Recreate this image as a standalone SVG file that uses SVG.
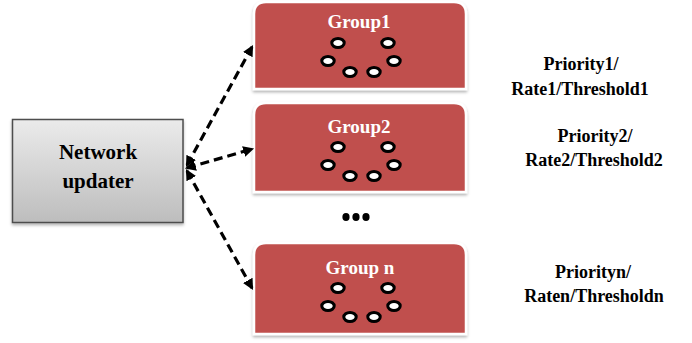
<svg xmlns="http://www.w3.org/2000/svg" width="692" height="343" viewBox="0 0 692 343">
<style>
.grp{fill:#c0504d;stroke:#ffffff;stroke-width:2.5;filter:url(#sh)}
.gl{font-family:"Liberation Serif",serif;font-weight:bold;font-size:19px;fill:#ffffff;text-anchor:middle}
.dot{fill:#ffffff;stroke:#000000;stroke-width:3}
.lbl{font-family:"Liberation Serif",serif;font-weight:bold;font-size:18px;fill:#000000;text-anchor:middle}
.nu{font-family:"Liberation Serif",serif;font-weight:bold;font-size:21px;fill:#000000;text-anchor:middle}
.con{stroke:#000000;stroke-width:3.2;stroke-dasharray:9,5;fill:none;marker-start:url(#ah);marker-end:url(#ah)}
</style>
<defs>
<linearGradient id="gg" x1="0" y1="0" x2="0" y2="1">
<stop offset="0" stop-color="#ebebeb"/>
<stop offset="1" stop-color="#bdbdbd"/>
</linearGradient>
<filter id="sh" x="-10%" y="-10%" width="120%" height="125%">
<feDropShadow dx="0" dy="2" stdDeviation="1.5" flood-color="#000000" flood-opacity="0.3"/>
</filter>
<marker id="ah" viewBox="0 0 10 10" refX="8" refY="5" markerWidth="3.4" markerHeight="3.4" orient="auto-start-reverse" markerUnits="strokeWidth">
<path d="M0,0 L10,5 L0,10 Z" fill="#000000"/>
</marker>
<g id="dots">
<ellipse class="dot" cx="338" cy="43" rx="6.2" ry="4.6"/>
<ellipse class="dot" cx="388" cy="43" rx="6.2" ry="4.6"/>
<ellipse class="dot" cx="328" cy="61" rx="6.2" ry="4.6"/>
<ellipse class="dot" cx="394" cy="61" rx="6.2" ry="4.6"/>
<ellipse class="dot" cx="350" cy="72" rx="6.2" ry="4.6"/>
<ellipse class="dot" cx="374" cy="72" rx="6.2" ry="4.6"/>
</g>
</defs>
<rect width="692" height="343" fill="#ffffff"/>

<g id="network-updater">
<rect x="12.5" y="119.5" width="170.5" height="103" fill="url(#gg)" stroke="#4d4d4d" stroke-width="1.5" filter="url(#sh)"/>
<text class="nu" x="98" y="159">Network</text>
<text class="nu" x="98" y="188">updater</text>
</g>

<g id="group1">
<path class="grp" d="M254,89 V14 Q254,2 266,2 H454 Q466,2 466,14 V89 Z"/>
<text class="gl" x="359" y="28">Group1</text>
<use href="#dots"/>
</g>

<g id="group2">
<path class="grp" d="M254,192 V115 Q254,103 266,103 H454 Q466,103 466,115 V192 Z"/>
<text class="gl" x="359" y="133">Group2</text>
<use href="#dots" transform="translate(0,104)"/>
</g>

<g id="ellipsis">
<ellipse cx="346" cy="217" rx="3.6" ry="4" fill="#000000"/>
<ellipse cx="356" cy="217" rx="3.6" ry="4" fill="#000000"/>
<ellipse cx="366" cy="217" rx="3.6" ry="4" fill="#000000"/>
</g>

<g id="groupn">
<path class="grp" d="M254,334 V255 Q254,243 266,243 H454 Q466,243 466,255 V334 Z"/>
<text class="gl" x="360" y="274">Group n</text>
<use href="#dots" transform="translate(0,245)"/>
</g>

<g id="labels">
<text class="lbl" x="581" y="70">Priority1/</text>
<text class="lbl" x="580" y="95">Rate1/Threshold1</text>
<text class="lbl" x="595" y="142">Priority2/</text>
<text class="lbl" x="594" y="166">Rate2/Threshold2</text>
<text class="lbl" x="593" y="278">Priorityn/</text>
<text class="lbl" x="594" y="302">Raten/Thresholdn</text>
</g>

<g id="connectors">
<line class="con" x1="187" y1="165" x2="252" y2="47"/>
<line class="con" x1="187" y1="168" x2="252" y2="149"/>
<line class="con" x1="187" y1="171" x2="252" y2="288"/>
</g>
</svg>
